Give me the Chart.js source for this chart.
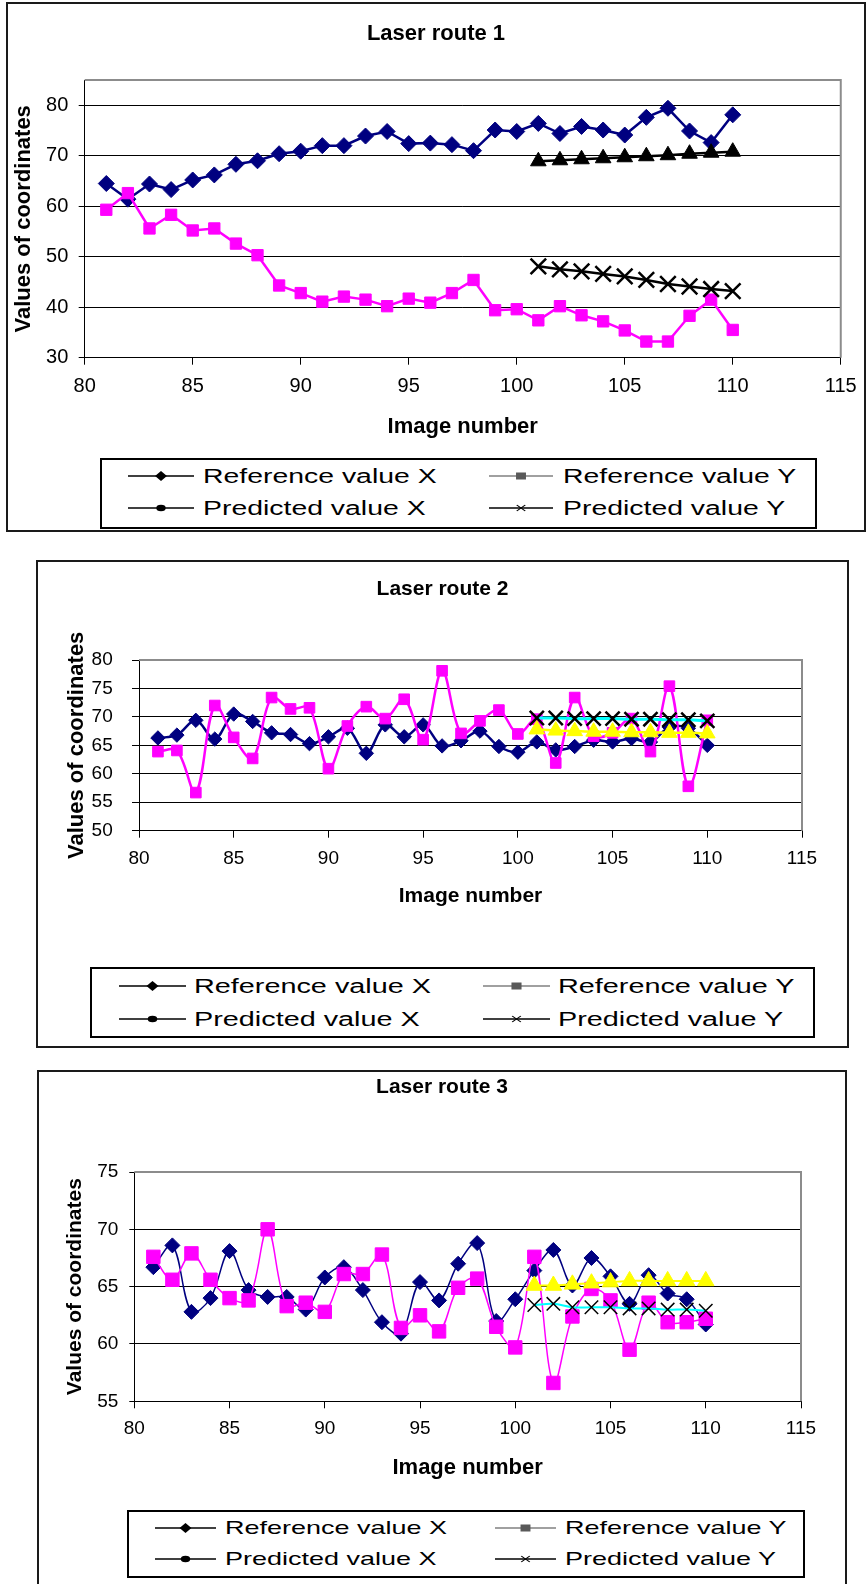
<!DOCTYPE html>
<html>
<head>
<meta charset="utf-8">
<script src="https://cdn.jsdelivr.net/npm/chart.js@4.4.1/dist/chart.umd.min.js"></script>
<style>
  body { margin: 0; width: 867px; height: 1584px; overflow: hidden; background: #fff; position: relative;
         font-family: "Liberation Sans", Arial, sans-serif; }
  .box { position: absolute; box-sizing: border-box; border: 2px solid #1a1a1a; }
  .legend { position: absolute; box-sizing: border-box; border: 2px solid #000; }
  canvas { position: absolute; }
  .lg-text { position: absolute; white-space: nowrap; color: #000; transform-origin: 0 50%; }
</style>
</head>
<body>
<div class="box" style="left:6px;top:2px;width:860px;height:530px"></div>
<div class="box" style="left:36px;top:560px;width:813px;height:488px"></div>
<div class="box" style="left:37px;top:1070px;width:810px;height:540px"></div>

<canvas id="route1" width="860" height="448" style="left:6px;top:2px"></canvas>
<canvas id="route2" width="813" height="398" style="left:36px;top:562px"></canvas>
<canvas id="route3" width="810" height="420" style="left:37px;top:1072px"></canvas>

<script>
// image numbers for the measured points and for the predicted ones
const imageNo = [81, 82, 83, 84, 85, 86, 87, 88, 89, 90, 91, 92, 93, 94, 95,
                 96, 97, 98, 99, 100, 101, 102, 103, 104, 105, 106, 107, 108, 109, 110];
const predNo = [101, 102, 103, 104, 105, 106, 107, 108, 109, 110];

// route 1
const route1RefX = [64.5, 61.4, 64.4, 63.3, 65.2, 66.2, 68.3, 69.0, 70.4, 70.9, 72.0, 72.0, 73.9, 74.8, 72.4,
                    72.5, 72.2, 71.0, 75.1, 74.8, 76.4, 74.4, 75.8, 75.1, 74.1, 77.6, 79.4, 74.9, 72.6, 78.1];
const route1RefY = [59.3, 62.6, 55.6, 58.3, 55.2, 55.6, 52.6, 50.3, 44.3, 42.8, 41.1, 42.1, 41.5, 40.2, 41.7,
                    40.9, 42.8, 45.4, 39.4, 39.6, 37.4, 40.2, 38.4, 37.2, 35.4, 33.2, 33.2, 38.3, 41.5, 35.5];
const route1PredX = [68.9, 69.1, 69.3, 69.5, 69.7, 69.9, 70.1, 70.4, 70.6, 70.8];
const route1PredY = [48.1, 47.5, 47.1, 46.6, 46.1, 45.4, 44.6, 44.1, 43.6, 43.2];

// route 2
const route2RefX = [66.3, 66.8, 69.4, 66.1, 70.5, 69.2, 67.2, 66.9, 65.3, 66.5, 68.0, 63.6, 68.6, 66.5, 68.6,
                    64.9, 65.8, 67.5, 64.8, 63.8, 65.6, 64.2, 64.8, 65.9, 65.6, 66.2, 65.6, 68.2, 68.0, 65.0];
const route2RefY = [63.9, 64.1, 56.7, 72.0, 66.4, 62.7, 73.4, 71.4, 71.6, 60.9, 68.4, 71.8, 69.7, 73.1, 66.0,
                    78.1, 67.1, 69.3, 71.2, 67.0, 69.6, 61.9, 73.4, 66.6, 67.2, 69.7, 63.9, 75.4, 57.8, 69.4];
const route2PredX = [67.8, 67.6, 67.5, 67.4, 67.4, 67.3, 67.3, 67.2, 67.2, 67.1];
const route2PredY = [69.8, 69.8, 69.7, 69.7, 69.7, 69.6, 69.6, 69.5, 69.5, 69.3];

// route 3
const route3RefX = [66.7, 68.6, 62.8, 64.0, 68.1, 64.7, 64.1, 64.1, 63.0, 65.8, 66.7, 64.7, 61.9, 60.9, 65.4,
                    63.8, 67.0, 68.8, 62.0, 63.9, 66.4, 68.2, 65.1, 67.5, 65.9, 63.5, 66.0, 64.4, 63.9, 61.7];
const route3RefY = [67.6, 65.6, 67.9, 65.6, 64.0, 63.8, 70.0, 63.3, 63.6, 62.8, 66.1, 66.1, 67.8, 61.4, 62.5,
                    61.1, 64.9, 65.7, 61.5, 59.7, 67.6, 56.6, 62.4, 64.8, 63.8, 59.5, 63.6, 61.9, 61.9, 62.2];
const route3PredX = [65.1, 65.1, 65.2, 65.3, 65.4, 65.5, 65.5, 65.5, 65.5, 65.5];
const route3PredY = [63.4, 63.5, 63.2, 63.2, 63.2, 63.1, 63.1, 63.0, 63.0, 62.9];

const seriesNames = ['Reference value X', 'Reference value Y', 'Predicted value X', 'Predicted value Y'];
const xTicks = { min: 80, max: 115, step: 5 };

Chart.defaults.font.family = '"Liberation Sans", Arial, sans-serif';
Chart.defaults.color = '#000';

const pts = (xs, ys) => xs.map((x, i) => ({ x, y: ys[i] }));

// grey frame on the top and right of the plot area, like a spreadsheet chart
const plotFrame = {
  id: 'plotFrame',
  beforeDatasetsDraw(chart) {
    const { ctx, chartArea: a } = chart;
    ctx.save();
    ctx.strokeStyle = '#8c8c8c';
    ctx.lineWidth = 2;
    ctx.beginPath();
    ctx.moveTo(a.left, a.top);
    ctx.lineTo(a.right, a.top);
    ctx.lineTo(a.right, a.bottom);
    ctx.stroke();
    ctx.restore();
  }
};

function routeChart(id, title, refX, refY, predX, predY, o) {
  const marker = (color, style, r, bw) => ({
    borderColor: color, backgroundColor: color,
    pointStyle: style, pointRadius: r, pointBackgroundColor: color,
    pointBorderColor: color, pointBorderWidth: 1, borderWidth: bw,
    tension: o.tension, clip: false
  });
  return new Chart(document.getElementById(id), {
    type: 'line',
    data: {
      datasets: [
        { label: seriesNames[0], data: pts(imageNo, refX), order: 4, ...marker('#000080', 'rectRot', o.diamond, o.line) },
        { label: seriesNames[1], data: pts(imageNo, refY), order: 3, ...marker('#ff00ff', 'rect', o.square, o.line) },
        { label: seriesNames[2], data: pts(predNo, predX), order: 2, ...marker(o.predXColor, 'triangle', o.triangle, o.predLine) },
        { label: seriesNames[3], data: pts(predNo, predY), order: 1, ...marker(o.predYLine, 'crossRot', o.cross, o.predYWidth),
          pointBorderColor: '#000', pointBackgroundColor: '#000', pointBorderWidth: o.crossWidth }
      ]
    },
    options: {
      responsive: false,
      animation: false,
      events: [],
      layout: { padding: 0 },
      plugins: {
        legend: { display: false },
        tooltip: { enabled: false },
        title: {
          display: true, text: title, color: '#000',
          font: { size: o.titleSize, weight: 'bold' },
          padding: { top: o.titleTop, bottom: o.titleBottom }
        }
      },
      scales: {
        x: {
          type: 'linear', min: xTicks.min, max: xTicks.max,
          ticks: { stepSize: xTicks.step, color: '#000', font: { size: o.tickSize }, padding: o.xTickPad },
          grid: { drawOnChartArea: false, tickLength: 7, tickColor: '#000', tickWidth: 1 },
          border: { color: '#000', width: 1 },
          title: { display: true, text: 'Image number', color: '#000',
                   font: { size: o.xTitleSize, weight: 'bold' }, padding: { top: 0, bottom: o.xTitlePad } },
          afterFit: s => { s.height = o.xAxisHeight; }
        },
        y: {
          type: 'linear', min: o.yMin, max: o.yMax,
          ticks: { stepSize: o.yStep, color: '#000', font: { size: o.tickSize }, padding: o.yTickPad },
          grid: {
            color: c => (c.tick && c.tick.value >= o.yMax) ? 'rgba(0,0,0,0)' : '#000',
            tickColor: '#000', tickLength: o.yTickLen, lineWidth: 1
          },
          border: { color: '#000', width: 1 },
          title: { display: true, text: 'Values of coordinates', color: '#000',
                   font: { size: o.yTitleSize, weight: 'bold' }, padding: { top: o.yTitlePad, bottom: 0 } },
          afterBuildTicks: s => { s.ticks = s.ticks.filter(t => t.value <= o.yTop); },
          afterFit: s => { s.width = o.yAxisWidth; }
        },
        // empty right-hand axis that only reserves the gap beside the plot
        gap: {
          type: 'linear', position: 'right', display: true,
          grid: { display: false }, border: { display: false }, ticks: { display: false },
          afterFit: s => { s.width = o.gapRight; }
        }
      }
    },
    plugins: [plotFrame]
  });
}

routeChart('route1', 'Laser route 1', route1RefX, route1RefY, route1PredX, route1PredY, {
  tension: 0, line: 2.5, predLine: 2.5, predYWidth: 2.5,
  diamond: 8, square: 8, triangle: 9, cross: 11, crossWidth: 2.5,
  predXColor: '#000', predYLine: '#000',
  titleSize: 22, titleTop: 18.3, titleBottom: 33.3,
  tickSize: 20, xTickPad: 9.3, xTitleSize: 22, xTitlePad: 9.8, xAxisHeight: 92.3,
  yMin: 30, yMax: 85, yTop: 80, yStep: 10, yTickPad: 10.4, yTickLen: 6,
  yTitleSize: 22, yTitlePad: 4.8, yAxisWidth: 78.7, gapRight: 18.3
});

routeChart('route2', 'Laser route 2', route2RefX, route2RefY, route2PredX, route2PredY, {
  tension: 0.35, line: 2.5, predLine: 2.5, predYWidth: 3,
  diamond: 7.2, square: 7.5, triangle: 9, cross: 10, crossWidth: 2.5,
  predXColor: '#ffff00', predYLine: '#00ffff',
  titleSize: 21, titleTop: 14.4, titleBottom: 58.4,
  tickSize: 19, xTickPad: 9.9, xTitleSize: 21, xTitlePad: 51.4, xAxisHeight: 129.3,
  yMin: 50, yMax: 80, yTop: 80, yStep: 5, yTickPad: 19.3, yTickLen: 7,
  yTitleSize: 22, yTitlePad: 27.8, yAxisWidth: 103, gapRight: 47
});

routeChart('route3', 'Laser route 3', route3RefX, route3RefY, route3PredX, route3PredY, {
  tension: 0.35, line: 1.5, predLine: 2, predYWidth: 2,
  diamond: 7.5, square: 9.5, triangle: 9.5, cross: 9.5, crossWidth: 1.5,
  predXColor: '#ffff00', predYLine: '#00ffff',
  titleSize: 21, titleTop: 2.4, titleBottom: 72.4,
  tickSize: 19, xTickPad: 9.3, xTitleSize: 22, xTitlePad: 10.8, xAxisHeight: 90.7,
  yMin: 55, yMax: 75, yTop: 75, yStep: 5, yTickPad: 11, yTickLen: 5,
  yTitleSize: 21, yTitlePad: 25.4, yAxisWidth: 97.3, gapRight: 46
});

// legends: black sample markers and horizontally stretched labels
const legendIcons = ['diamond', 'square', 'dot', 'cross'];
const legendBoxes = [
  { box: [100, 458, 717, 71], rows: [476, 508], cols: [[128, 66, 203], [489, 64, 563]], size: 20, stretch: 1.42 },
  { box: [90, 967, 725, 71], rows: [986, 1019], cols: [[119, 67, 194], [483, 67, 558]], size: 20, stretch: 1.44 },
  { box: [127, 1510, 678, 68], rows: [1528, 1559], cols: [[155, 61, 225], [495, 61, 565]], size: 19, stretch: 1.42 }
];

function drawIcon(cv, kind, k) {
  const ctx = cv.getContext('2d');
  const w = cv.width, cy = cv.height / 2;
  ctx.strokeStyle = kind === 'square' ? '#808080' : '#000';
  ctx.lineWidth = 1.5;
  ctx.beginPath();
  ctx.moveTo(0, cy);
  ctx.lineTo(w, cy);
  ctx.stroke();
  ctx.save();
  ctx.translate(w / 2, cy);
  ctx.scale(k, 1);
  ctx.fillStyle = '#000';
  ctx.strokeStyle = '#000';
  ctx.beginPath();
  if (kind === 'diamond') {
    ctx.moveTo(0, -5); ctx.lineTo(4.2, 0); ctx.lineTo(0, 5); ctx.lineTo(-4.2, 0);
    ctx.closePath(); ctx.fill();
  } else if (kind === 'square') {
    ctx.fillStyle = '#595959';
    ctx.fillRect(-3.5, -3.5, 7, 7);
  } else if (kind === 'dot') {
    ctx.arc(0, 0, 3.3, 0, Math.PI * 2); ctx.fill();
  } else {
    ctx.lineWidth = 1;
    ctx.moveTo(-3, -3); ctx.lineTo(3, 3); ctx.moveTo(3, -3); ctx.lineTo(-3, 3);
    ctx.stroke();
  }
  ctx.restore();
}

legendBoxes.forEach(lg => {
  const [bx, by, bw, bh] = lg.box;
  const frame = document.createElement('div');
  frame.className = 'legend';
  Object.assign(frame.style, { left: bx + 'px', top: by + 'px', width: bw + 'px', height: bh + 'px' });
  document.body.appendChild(frame);

  seriesNames.forEach((name, i) => {
    const rowY = lg.rows[Math.floor(i / 2)];
    const [iconX, iconW, textX] = lg.cols[i % 2];

    const cv = document.createElement('canvas');
    cv.width = iconW; cv.height = 16;
    Object.assign(cv.style, { left: iconX + 'px', top: (rowY - 8) + 'px' });
    document.body.appendChild(cv);
    drawIcon(cv, legendIcons[i], lg.stretch);

    const lineH = Math.round(lg.size * 1.15);
    const span = document.createElement('span');
    span.className = 'lg-text';
    span.textContent = name;
    Object.assign(span.style, {
      left: textX + 'px', top: (rowY - lineH / 2) + 'px',
      fontSize: lg.size + 'px', lineHeight: lineH + 'px',
      transform: 'scaleX(' + lg.stretch + ')'
    });
    document.body.appendChild(span);
  });
});
</script>
</body>
</html>
